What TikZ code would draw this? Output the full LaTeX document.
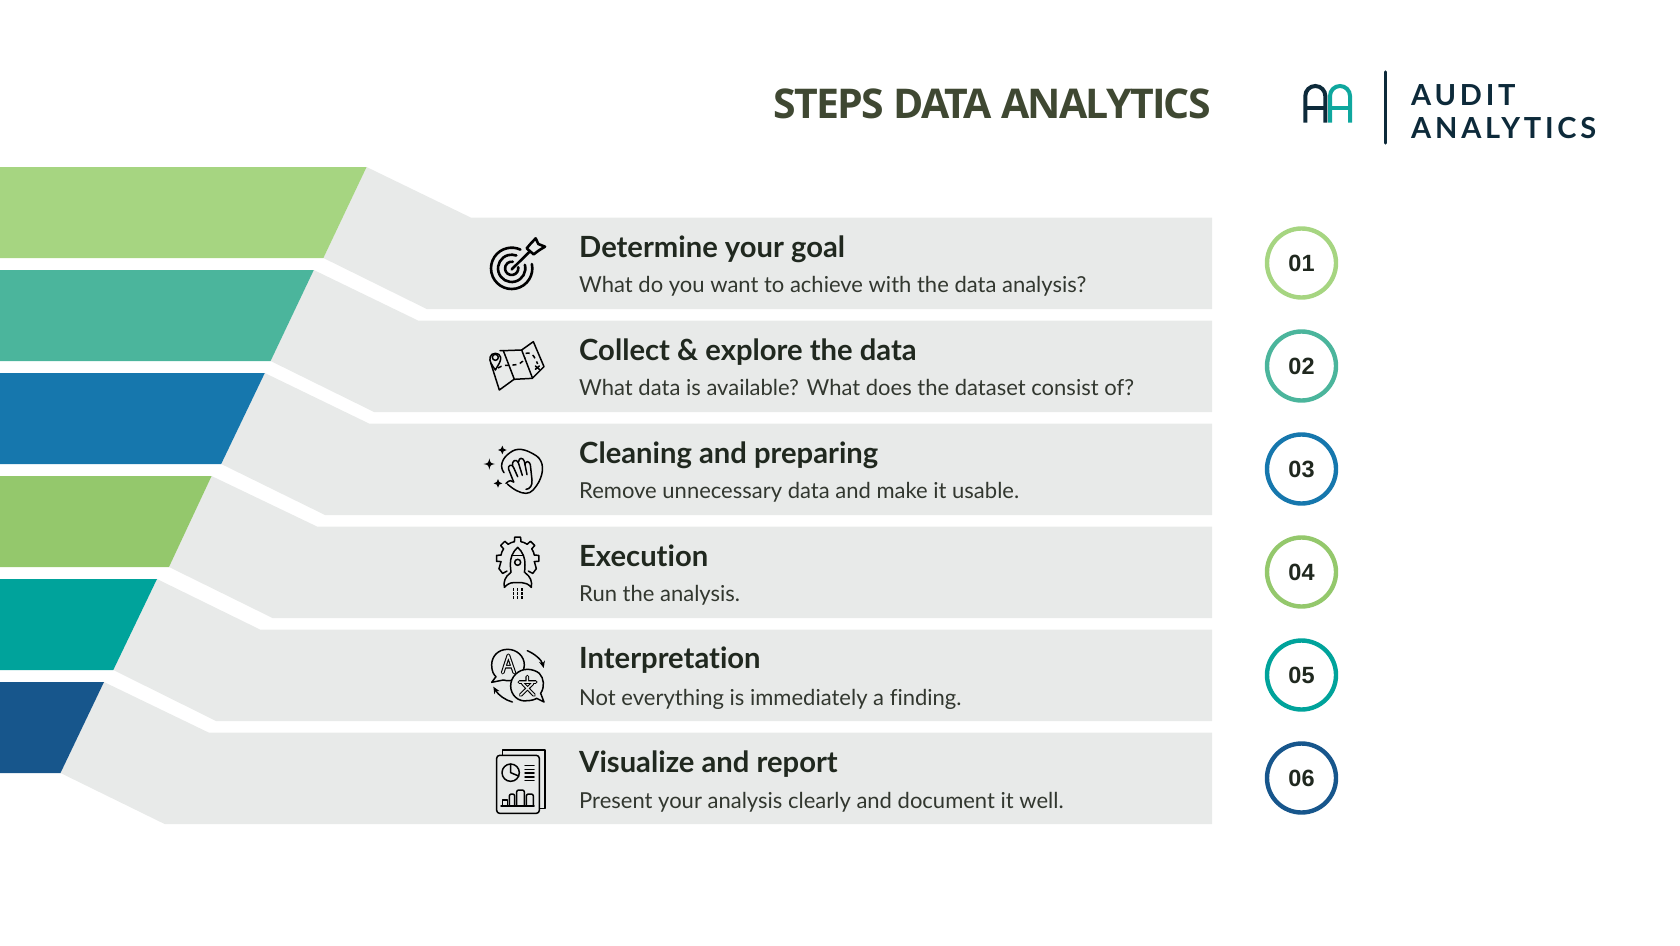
\documentclass[tikz,border=0pt]{standalone}
\usepackage{fontspec}
\setmainfont{Lato}[Ligatures={NoCommon,NoRare}]
\newfontfamily\headfont{Open Sans}[LetterSpace=-4.2]
\newfontfamily\numfont{Liberation Sans}
\newfontfamily\logofont{Lato}[LetterSpace=13]
\usetikzlibrary{arrows.meta}
\definecolor{bandA}{HTML}{A6D581}
\definecolor{bandB}{HTML}{4BB59C}
\definecolor{bandC}{HTML}{1677AD}
\definecolor{bandD}{HTML}{94C86C}
\definecolor{bandE}{HTML}{00A39B}
\definecolor{bandF}{HTML}{17568C}
\definecolor{paneGrey}{HTML}{E8EAE9}
\definecolor{inkDark}{HTML}{20281F}
\definecolor{inkBody}{HTML}{32372F}
\definecolor{headInk}{HTML}{3F4832}
\definecolor{logoInk}{HTML}{0D2A3A}
\definecolor{logoTeal}{HTML}{0FA79E}
\tikzset{
  stepTitle/.style={anchor=base west,inner sep=0pt,text=inkDark,font=\fontsize{29.2}{32}\selectfont\bfseries},
  stepText/.style={anchor=base west,inner sep=0pt,text=inkBody,font=\fontsize{22}{26}\selectfont},
  numRing/.style={circle,draw=#1,line width=4.4pt,fill=white,minimum size=69pt,inner sep=0pt,text=inkDark,font=\numfont\fontsize{23.5}{26}\selectfont\bfseries},
  ico/.style={draw=black,line width=1.5pt,line cap=round,line join=round},
  icoThick/.style={draw=black,line width=2.6pt,line cap=round,line join=round},
  logoStroke/.style={line width=4pt,line cap=butt},
}
\begin{document}
\begin{tikzpicture}[x=1pt,y=-1pt]
\useasboundingbox (0,0) rectangle (1680,945);
\foreach \yy/\tr/\br/\gt/\gb/\col in {
 167/366.6/323.4/470.7/426.7/bandA,
 270/313.8/270.6/418/374/bandB,
 373/264.8/221.2/369/325/bandC,
 476/211.6/169/317/272.5/bandD,
 579/157/113.3/260/216/bandE,
 682/104/60.5/208.6/164.6/bandF}{
  \fill[paneGrey] (\tr,\yy) -- (\gt,\yy+50.5) -- (1212,\yy+50.5) -- (1212,\yy+142) -- (\gb,\yy+142) -- (\br,\yy+91) -- cycle;
  \fill[\col] (0,\yy) -- (\tr,\yy) -- (\br,\yy+91) -- (0,\yy+91) -- cycle;
}
\node[stepTitle] (t1) at (579,257) {Determine your goal};
\node[stepText]  (d1) at (579,292) {What do you want to achieve with the data analysis?};
\node[stepTitle] (t2) at (579,360) {Collect \& explore the data};
\node[stepText]  (d2) at (579,395) {What data is available? What does the dataset consist of?};
\node[stepTitle] (t3) at (579,463) {Cleaning and preparing};
\node[stepText]  (d3) at (579,498) {Remove unnecessary data and make it usable.};
\node[stepTitle] (t4) at (579,566) {Execution};
\node[stepText]  (d4) at (579,601) {Run the analysis.};
\node[stepTitle] (t5) at (579,668) {Interpretation};
\node[stepText]  (d5) at (579,705) {Not everything is immediately a finding.};
\node[stepTitle] (t6) at (579,772) {Visualize and report};
\node[stepText]  (d6) at (579,808.5) {Present your analysis clearly and document it well.};
\node[numRing=bandA] (n1) at (1301.5,263) {01};
\node[numRing=bandB] (n2) at (1301.5,366) {02};
\node[numRing=bandC] (n3) at (1301.5,469) {03};
\node[numRing=bandD] (n4) at (1301.5,572) {04};
\node[numRing=bandE] (n5) at (1301.5,675) {05};
\node[numRing=bandF] (n6) at (1301.5,778) {06};
\node[anchor=base east,inner sep=0pt,text=headInk,font=\headfont\fontsize{41}{46}\selectfont\bfseries] (head) at (1211,118) {STEPS DATA ANALYTICS};
% logo
\draw[logoStroke,logoTeal] (1330,122.7) -- (1330,96) arc[start angle=180,end angle=360,radius=10] -- (1350,122.7);
\draw[logoStroke,logoTeal] (1330,108) -- (1350,108);
\draw[logoStroke,logoInk] (1305.3,122.7) -- (1305.3,96) arc[start angle=180,end angle=360,radius=10] -- (1325.3,122.7);
\draw[logoStroke,logoInk] (1305.3,108) -- (1325.3,108);
\draw[logoInk,line width=3.4pt,line cap=round] (1385.5,72) -- (1385.5,143);
\node[anchor=base west,inner sep=0pt,text=logoInk,font=\logofont\fontsize{29}{32}\selectfont\bfseries] (l1) at (1411,105) {AUDIT};
\node[anchor=base west,inner sep=0pt,text=logoInk,font=\logofont\fontsize{29}{32}\selectfont\bfseries] (l2) at (1411,138) {ANALYTICS};
% icon 1: target
\begin{scope}[shift={(470,220)},scale=1/3]
  \draw[icoThick] (125,145) ++(-12:62) arc[start angle=-12,end angle=295,radius=62];
  \draw[icoThick] (125,145) ++(-15:41) arc[start angle=-15,end angle=290,radius=41];
  \draw[icoThick] (125,145) ++(-10:20) arc[start angle=-10,end angle=280,radius=20];
  \draw[icoThick] (125,148) -- (178,96);
  \draw[icoThick] (170,85) -- (181,72) -- (197,55) -- (205,72) -- (225,80) -- (207,91) -- (191,103) -- cycle;
\end{scope}
% icon 2: map
\begin{scope}[shift={(470,220)},scale=1/3]
  \draw[ico] (62,428) -- (88,510) -- (132,478) -- (187,475) -- (222,440) -- (190,365) -- (155,390) -- (100,392) -- (90,392);
  \draw[ico] (100,392) -- (133,478);
  \draw[ico] (155,390) -- (187,473);
  \draw[ico,fill=paneGrey] (76,450) .. controls (64,432) and (58,425) .. (60,412) .. controls (62,396) and (90,396) .. (92,412) .. controls (93,425) and (86,432) .. (76,450) -- cycle;
  \draw[ico] (76,412) circle[radius=9];
  \draw[ico,dash pattern=on 4pt off 3.5pt,line cap=butt] (84,444) .. controls (110,425) and (150,450) .. (165,412);
  \draw[ico,dash pattern=on 4pt off 3.5pt,line cap=butt] (167,400) .. controls (190,395) and (195,415) .. (203,432);
  \draw[ico] (196,438) -- (208,448) (208,438) -- (196,448);
\end{scope}
% icon 3: cloth and hand
\begin{scope}[shift={(470,430)},scale=1/3]
  \draw[ico] (102,128) .. controls (88,110) and (95,85) .. (120,68) .. controls (140,52) and (165,55) .. (200,78) .. controls (222,95) and (222,125) .. (207,155);
  \draw[ico] (207,155) .. controls (195,175) and (185,190) .. (168,190) .. controls (150,190) and (130,178) .. (112,162);
  \draw[ico] (108,160) .. controls (118,150) and (125,150) .. (131,156);
  \draw[ico] (131,156) -- (116,118) .. controls (112,105) and (127,100) .. (131,113) -- (143,140);
  \draw[ico] (128,106) .. controls (124,92) and (140,85) .. (145,98) -- (157,136);
  \draw[ico] (146,95) .. controls (146,82) and (160,82) .. (163,94) -- (171,134);
  \draw[ico] (165,104) .. controls (166,92) and (178,92) .. (181,104) -- (186,150) .. controls (188,165) and (180,178) .. (168,178);
  \foreach \sx/\sy/\sr in {58/102/17, 97/60/13, 84/160/13}{
    \fill[black] (\sx-\sr,\sy) .. controls (\sx-3,\sy-3) .. (\sx,\sy-\sr) .. controls (\sx+3,\sy-3) .. (\sx+\sr,\sy) .. controls (\sx+3,\sy+3) .. (\sx,\sy+\sr) .. controls (\sx-3,\sy+3) .. cycle;
  }
\end{scope}
% icon 4: gear and rocket
\begin{scope}[shift={(470,430)},scale=1/3]
  \begin{scope}[shift={(143,385)}]
    \foreach \a in {-90,-45,0,-135,180}{
      \draw[ico] ({\a-11}:51) -- ({\a-8}:64) -- ({\a+8}:64) -- ({\a+11}:51);
    }
    \draw[ico] (29:64) -- (45:64) -- (50:50);
    \draw[ico] (151:64) -- (135:64) -- (130:50);
    \draw[ico] (11:51) -- (29:64);
    \draw[ico] (169:51) -- (151:64);
    \foreach \a in {-79,-34,-169,-124}{
      \draw[ico] (\a:51) arc[start angle=\a,end angle=\a+23,radius=51];
    }
  \end{scope}
  \draw[ico,fill=paneGrey] (143,352) .. controls (128,365) and (120,385) .. (121,405) .. controls (122,425) and (125,440) .. (128,452) -- (158,452) .. controls (161,440) and (165,425) .. (165,405) .. controls (166,385) and (158,365) .. (143,352) -- cycle;
  \draw[ico] (127,376) -- (159,376);
  \draw[ico] (143,397) circle[radius=9];
  \draw[ico] (143,432) -- (143,450);
  \draw[ico,fill=paneGrey] (122,428) .. controls (105,440) and (100,455) .. (103,472) .. controls (112,462) and (122,458) .. (130,458) -- (156,458) .. controls (165,458) and (175,462) .. (184,472) .. controls (187,455) and (182,440) .. (165,428);
  \draw[ico,line cap=butt,dash pattern=on 2.6pt off 1.4pt] (130,474) -- (130,507);
  \draw[ico,line cap=butt,dash pattern=on 2.6pt off 1.4pt] (143,474) -- (143,507);
  \draw[ico,line cap=butt,dash pattern=on 2.6pt off 1.4pt] (156,474) -- (156,507);
\end{scope}
% icon 5: translation bubbles
\begin{scope}[shift={(470,630)},scale=1/3]
  \draw[ico] (113,58) .. controls (85,58) and (65,78) .. (65,105) .. controls (65,125) and (72,135) .. (78,140) -- (65,157) -- (100,150) .. controls (130,160) and (163,135) .. (163,105) .. controls (163,78) and (140,58) .. (113,58) -- cycle;
  \draw[ico,double=paneGrey,double distance=1.5pt,line width=1.1pt] (98,128) -- (115,76) -- (133,128) (104,110) -- (127,110);
  \draw[ico,fill=paneGrey] (172,118) .. controls (145,118) and (122,140) .. (122,168) .. controls (122,195) and (145,217) .. (172,212) .. controls (185,212) and (195,208) .. (200,205) -- (222,216) -- (212,190) .. controls (225,170) and (222,145) .. (208,130) .. controls (198,122) and (185,118) .. (172,118) -- cycle;
  \draw[ico,double=paneGrey,double distance=1.5pt,line width=1.1pt] (148,156) -- (197,156) (172,140) -- (172,156) (158,160) -- (192,195) (188,160) -- (152,195);
  \draw[ico,-{Stealth[length=7pt,width=6pt]}] (172,62) .. controls (195,72) and (215,90) .. (221,114);
  \draw[ico,-{Stealth[length=7pt,width=6pt]}] (127,216) .. controls (105,210) and (85,195) .. (70,170);
\end{scope}
% icon 6: report
\begin{scope}[shift={(470,630)},scale=1/3]
  \draw[ico] (97,374) -- (97,360) -- (225,360) -- (225,535) -- (210,535);
  \draw[ico,rounded corners=3pt] (80,376) rectangle (208,550);
  \draw[ico] (122,428) circle[radius=26];
  \draw[ico] (122,402) -- (122,428) -- (146,438);
  \foreach \ly in {407,418,429,441,452}{ \draw[ico] (165,\ly) -- (192,\ly); }
  \draw[ico] (93,528) -- (192,528);
  \draw[ico] (97,528) -- (97,510) -- (112,510) -- (112,528);
  \draw[ico,rounded corners=2pt] (118,528) -- (118,492) -- (134,492) -- (134,528);
  \draw[ico,rounded corners=2pt] (140,528) -- (140,480) -- (163,480) -- (163,528);
  \draw[ico,rounded corners=2pt] (169,528) -- (169,492) -- (190,492) -- (190,528);
\end{scope}
\end{tikzpicture}
\end{document}
